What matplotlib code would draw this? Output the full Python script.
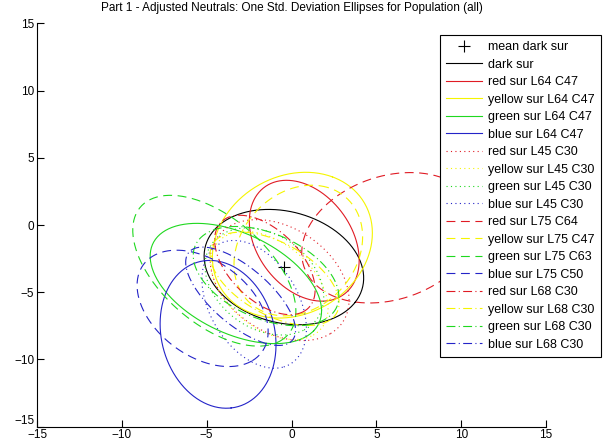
import numpy as np
import matplotlib
matplotlib.use('Agg')
import matplotlib.pyplot as plt

plt.rcParams['font.family'] = ['Liberation Sans', 'DejaVu Sans']

# mean of dark surround
mean_x = -0.45
mean_y = -3.13

# ellipse labels and parameters (centre, semi axes, angle in degrees)
labels = ['dark sur',
          'red sur L64 C47', 'yellow sur L64 C47', 'green sur L64 C47', 'blue sur L64 C47',
          'red sur L45 C30', 'yellow sur L45 C30', 'green sur L45 C30', 'blue sur L45 C30',
          'red sur L75 C64', 'yellow sur L75 C47', 'green sur L75 C63', 'blue sur L75 C50',
          'red sur L68 C30', 'yellow sur L68 C30', 'green sur L68 C30', 'blue sur L68 C30']
cx = [-0.45, 0.75, 0.05, -3.28, -4.33, -0.7, -1.3, -1.6, -2.2,
      5.8, 0.4, -4.55, -5.24, -1.57, -1.0, -1.5, -3.0]
cy = [-3.13, -1.17, -1.5, -4.35, -8.13, -4.1, -4.5, -4.2, -5.9,
      -0.95, -1.9, -3.4, -6.2, -2.97, -4.0, -3.8, -5.3]
semi_a = [4.95, 4.70, 5.6, 5.78, 5.53, 4.98, 4.5, 4.3, 4.97,
          5.6, 5.0, 6.51, 4.87, 4.15, 4.5, 4.8, 4.5]
semi_b = [4.0, 2.93, 4.5, 3.48, 3.36, 3.49, 2.8, 3.1, 2.71,
          4.38, 3.6, 3.49, 3.15, 2.28, 2.5, 3.0, 1.9]
angle = [-32, -68, 65, -37.5, -82, -53, -55, -57, -69.5,
         36.6, 70, -53, -53, -57, -40, -35, -50]

col_k = 'black'
col_r = '#e01b24'
col_y = '#f5f500'
col_g = '#1fd81f'
col_b = '#2424c8'
colors = [col_k] + [col_r, col_y, col_g, col_b] * 4
styles = ['-'] + ['-'] * 4 + [(0, (1, 3))] * 4 + [(0, (8, 5))] * 4 + [(0, (8, 3, 1, 3))] * 4

fig = plt.figure(figsize=(6.04, 4.42), dpi=100)
ax = fig.add_axes([0.0613, 0.0346, 0.8427, 0.9127])

t = np.linspace(0, 2 * np.pi, 200)
ax.plot(mean_x, mean_y, '+', color='black', ms=8, mew=0.8, label='mean dark sur')
for i in range(len(labels)):
    th = np.deg2rad(angle[i])
    ex = semi_a[i] * np.cos(t)
    ey = semi_b[i] * np.sin(t)
    x = cx[i] + ex * np.cos(th) - ey * np.sin(th)
    y = cy[i] + ex * np.sin(th) + ey * np.cos(th)
    ax.plot(x, y, color=colors[i], linestyle=styles[i], lw=0.8, label=labels[i])

ax.set_xlim(-15, 15)
ax.set_ylim(-15, 15)
ax.set_xticks(range(-15, 16, 5))
ax.set_yticks(range(-15, 16, 5))
ax.spines['top'].set_visible(False)
ax.spines['right'].set_visible(False)
ax.tick_params(direction='in', length=5, labelsize=8.5, pad=2)
# lowest y label sits just above the corner, like matlab
ax.get_yticklabels()[0].set_verticalalignment('bottom')
ax.set_title('Part 1 - Adjusted Neutrals: One Std. Deviation Ellipses for Population (all)',
             fontsize=8.5, pad=9)

leg = ax.legend(loc='upper left', bbox_to_anchor=(440 / 604, 1 - 35 / 442),
                bbox_transform=fig.transFigure, fontsize=9, frameon=True,
                fancybox=False, edgecolor='black', framealpha=1,
                handlelength=2.9, handletextpad=0.45, labelspacing=0.44,
                borderpad=0.5, borderaxespad=0)
leg.get_frame().set_linewidth(0.8)

fig.savefig('out.png', dpi=100)
